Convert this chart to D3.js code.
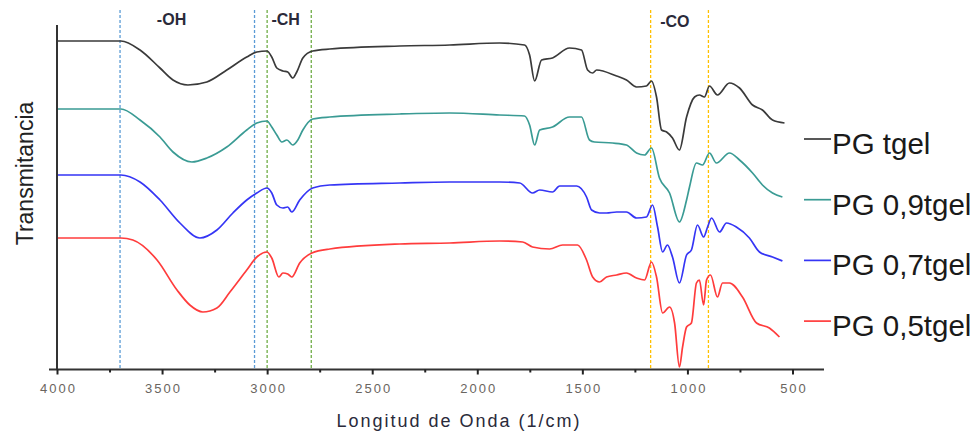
<!DOCTYPE html>
<html>
<head>
<meta charset="utf-8">
<script src="https://cdn.jsdelivr.net/npm/d3@7"></script>
<style>
  html, body { margin: 0; padding: 0; background: #fff; }
  svg { display: block; }
</style>
</head>
<body>
<div id="chart"></div>
<script>
// ---- Data (wavenumber in 1/cm, transmittance in arbitrary units, already offset) ----
const seriesNames = ["PG tgel", "PG 0,9tgel", "PG 0,7tgel", "PG 0,5tgel"];
const seriesColors = ["#3a3a3a", "#3a9b94", "#3535f5", "#ff3c3c"];

const blackWn = [4000,3696,3605,3510,3448,3377,3287,3192,3097,3049,3001,2978,2954,2925,2902,2878,2859,2830,2783,2702,2369,2131,1894,1775,1751,1727,1694,1642,1561,1504,1475,1451,1432,1337,1290,1242,1195,1171,1147,1123,1099,1071,1038,1004,966,943,919,895,857,800,752,690,643,595,538];
const blackT  = [328,328,319,301,289,284,287,299,312,317,318,312,301,298,297,291,297,311,318,320,323,324,326,324,314,288,309,311,321,319,299,296,299,293,289,282,283,288,272,239,237,231,219,252,272,274,272,283,274,286,281,264,259,249,246];

const tealWn = [4000,3696,3605,3510,3448,3358,3287,3192,3097,3049,3001,2978,2954,2930,2906,2878,2854,2830,2783,2702,2369,2131,1894,1775,1751,1727,1703,1642,1561,1504,1466,1442,1356,1290,1242,1204,1171,1133,1085,1038,1004,990,957,928,895,862,800,752,690,643,595,548];
const tealT  = [260,260,249,232,217,207,211,222,239,246,248,242,234,227,229,224,229,239,250,252,255,256,254,253,244,224,239,242,252,252,229,227,226,224,216,214,221,191,176,147,169,182,206,204,216,206,216,209,196,184,176,172];

const blueWn = [4000,3696,3605,3510,3415,3320,3239,3163,3097,3049,3001,2978,2954,2925,2902,2883,2845,2783,2702,2369,2131,1894,1798,1737,1703,1642,1608,1527,1480,1456,1418,1385,1337,1290,1242,1195,1166,1142,1118,1095,1071,1038,1004,981,952,923,904,885,847,814,767,705,657,595,548];
const blueT  = [194,194,187,169,146,131,139,156,169,176,181,176,164,161,162,157,169,181,184,186,187,187,186,176,179,177,183,183,172,159,156,156,157,157,151,152,164,142,117,124,112,86,114,119,144,132,142,151,137,146,142,131,117,112,108];

const redWn = [4000,3696,3639,3524,3429,3368,3306,3239,3177,3097,3049,3001,2978,2944,2925,2902,2883,2845,2787,2702,2369,2131,1894,1784,1737,1656,1594,1523,1480,1451,1418,1385,1337,1290,1242,1204,1171,1147,1118,1085,1061,1038,1023,1004,981,957,943,923,909,890,857,833,800,738,671,610,562];
const redT  = [131,131,129,109,79,64,57,61,77,99,112,117,111,92,96,95,92,106,116,120,125,126,128,127,122,120,124,124,109,92,87,92,94,96,91,89,107,92,56,62,46,2,22,42,46,86,89,64,89,94,72,86,86,72,46,41,32];

const majorTicks = [4000,3500,3000,2500,2000,1500,1000,500];
const minorTicks = [3750,3250,2750,2250,1750,1250,750];

const markerWn     = [3700, 3060, 3000, 2790, 1175, 900];
const markerColors = ["#5b9bd5", "#5b9bd5", "#70ad47", "#70ad47", "#ffc000", "#ffc000"];

const bandLabels = ["-OH", "-CH", "-CO"];
const bandWn     = [3455, 2912, 1060];

// ---- Layout ----
const W = 979, H = 434;
const svg = d3.select("#chart").append("svg").attr("width", W).attr("height", H);

const x = d3.scaleLinear().domain([4000, 350]).range([57, 824]);
const y = d3.scaleLinear().domain([0, 342]).range([369, 27]);
const axisY = 369.5;

// marker dashed lines
svg.append("g").selectAll("line").data(markerWn).join("line")
  .attr("x1", d => x(d)).attr("x2", d => x(d))
  .attr("y1", 10).attr("y2", axisY)
  .attr("stroke", (d, i) => markerColors[i])
  .attr("stroke-width", 1.3)
  .attr("stroke-dasharray", "3,2");

// band labels
svg.append("g").selectAll("text").data(bandLabels).join("text")
  .attr("x", (d, i) => x(bandWn[i]))
  .attr("y", (d, i) => i === 2 ? 27 : 25)
  .attr("text-anchor", "middle")
  .attr("font-family", "Liberation Sans, Arial, sans-serif")
  .attr("font-weight", "bold")
  .attr("font-size", 16)
  .attr("fill", "#2a2a3a")
  .text(d => d);

// series
const allSeries = [
  {wn: blackWn, t: blackT},
  {wn: tealWn, t: tealT},
  {wn: blueWn, t: blueT},
  {wn: redWn, t: redT}
];
const line = d3.line().x(d => x(d[0])).y(d => y(d[1])).curve(d3.curveMonotoneX);
svg.append("g").selectAll("path").data(allSeries).join("path")
  .attr("d", s => line(s.wn.map((w, i) => [w, s.t[i]])))
  .attr("fill", "none")
  .attr("stroke", (s, i) => seriesColors[i])
  .attr("stroke-width", 1.7)
  .attr("stroke-linejoin", "round");

// axes lines
svg.append("line").attr("x1", 57).attr("x2", 57).attr("y1", 25).attr("y2", axisY)
  .attr("stroke", "#333").attr("stroke-width", 2);
svg.append("line").attr("x1", 49).attr("x2", 824).attr("y1", axisY).attr("y2", axisY)
  .attr("stroke", "#333").attr("stroke-width", 2);

// x axis ticks and labels via d3 axis
const xAxis = d3.axisBottom(x).tickValues(majorTicks).tickSize(5).tickPadding(9).tickFormat(d3.format("d"));
const gx = svg.append("g").attr("transform", `translate(0,${axisY})`).call(xAxis);
gx.select(".domain").remove();
gx.selectAll(".tick line").attr("stroke", "#222").attr("stroke-width", 2);
gx.selectAll(".tick text")
  .attr("font-family", "Liberation Sans, Arial, sans-serif")
  .attr("font-size", 13)
  .attr("letter-spacing", "2px")
  .attr("fill", "#6a6560")
  .attr("dx", "1px");

const xMinor = d3.axisBottom(x).tickValues(minorTicks).tickSize(3).tickFormat("");
const gm = svg.append("g").attr("transform", `translate(0,${axisY})`).call(xMinor);
gm.select(".domain").remove();
gm.selectAll(".tick line").attr("stroke", "#222").attr("stroke-width", 2);

// axis titles
svg.append("text")
  .attr("x", 459).attr("y", 427)
  .attr("text-anchor", "middle")
  .attr("font-family", "Liberation Sans, Arial, sans-serif")
  .attr("font-size", 18)
  .attr("letter-spacing", "2px")
  .attr("fill", "#2a2a3a")
  .text("Longitud de Onda (1/cm)");

svg.append("text")
  .attr("transform", "translate(33,173.5) rotate(-90)")
  .attr("text-anchor", "middle")
  .attr("font-family", "Liberation Sans, Arial, sans-serif")
  .attr("font-size", 23)
  .attr("fill", "#222")
  .text("Transmitancia");

// legend
const legend = svg.append("g").selectAll("g").data(seriesNames).join("g")
  .attr("transform", (d, i) => `translate(0,${139 + i * 60.7})`);
legend.append("line")
  .attr("x1", 804).attr("x2", 831).attr("y1", 0).attr("y2", 0)
  .attr("stroke", (d, i) => seriesColors[i]).attr("stroke-width", 1.7);
legend.append("text")
  .attr("x", 832).attr("y", 15)
  .attr("font-family", "Liberation Sans, Arial, sans-serif")
  .attr("font-size", 29.5)
  .attr("fill", "#1a1a1a")
  .text(d => d);
</script>
</body>
</html>
